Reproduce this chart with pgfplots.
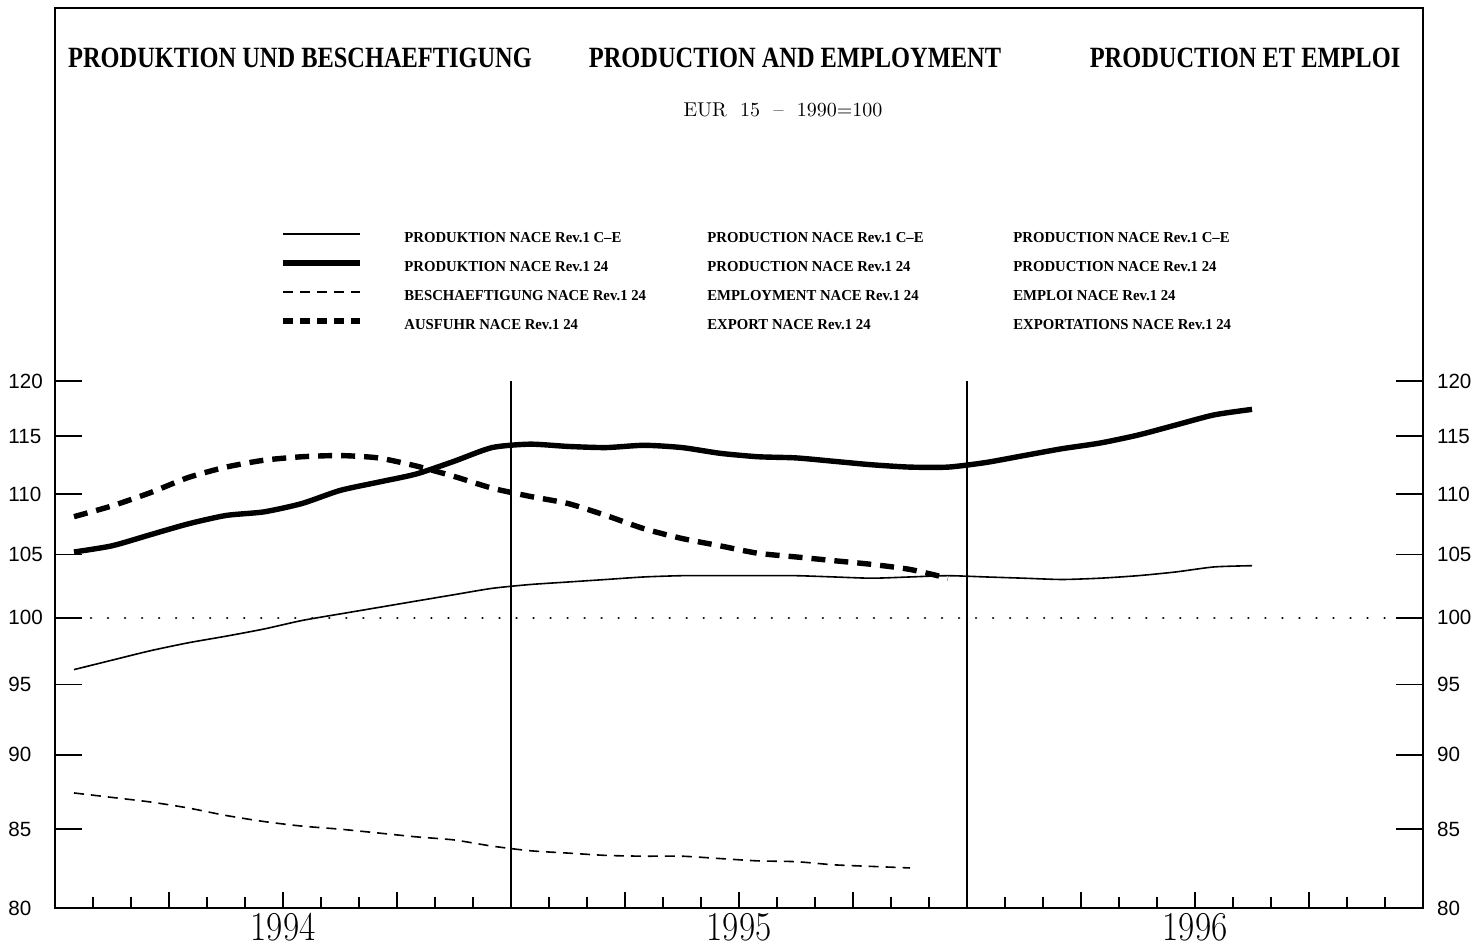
\documentclass[border=0pt]{standalone}
\usepackage{fontspec}
\usepackage{pgfplots}
\pgfplotsset{compat=1.18}
\newfontfamily\hdfont{Liberation Serif}
\newfontfamily\numfont{Liberation Sans}

\newcommand{\ttl}[1]{{\hdfont\bfseries\fontsize{14.7}{16}\selectfont\scalebox{0.83}[1]{#1}}}
\newcommand{\lgd}[1]{{\hdfont\bfseries\fontsize{7.6}{9}\selectfont\scalebox{0.97}[1]{#1}}}
\newcommand{\yr}[1]{\scalebox{0.86}[1]{#1}}

\pgfplotsset{
  chartbox/.style={
    scale only axis, width=684pt, height=263.5pt,
    xmin=0, xmax=36, ymin=80, ymax=120,
    axis line style={draw=none}, yminorticks=false,
    tick style={line width=0.8pt, black}, tick align=inside,
    clip=false
  },
  ylabs/.style={
    ytick={80,85,90,95,100,105,110,115,120},
    yticklabels={80,85,90,95,100,105,110,115,120},
    yticklabel style={font=\numfont\fontsize{10.3}{10}\selectfont, anchor=west}
  }
}

\begin{document}
\begin{tikzpicture}
\useasboundingbox (-27.5pt,-19.5pt) rectangle (711pt,454pt);

% y ticks on both sides, labels left
\begin{axis}[ymode=log, chartbox, ylabs, xtick=\empty,
  ytick pos=both, yticklabel pos=left, major tick length=13.5pt,
  yticklabel style={xshift=-26.8pt}]
\end{axis}

% labels right
\begin{axis}[ymode=log, chartbox, ylabs, xtick=\empty,
  ytick pos=right, yticklabel pos=right, major tick length=0pt,
  yticklabel style={xshift=3.5pt}]
\end{axis}

% data, month ticks
\begin{axis}[ymode=log, chartbox, ytick=\empty,
  xtick={6,18,30}, xticklabels={\yr{1994},\yr{1995},\yr{1996}},
  xticklabel style={font=\fontsize{20.5}{20}\selectfont, inner sep=0pt, anchor=north, yshift=-2.5pt},
  minor xtick={1,2,4,5,7,8,10,11,13,14,16,17,19,20,22,23,25,26,28,29,31,32,34,35},
  extra x ticks={3,9,15,21,27,33}, extra x tick labels={},
  xtick pos=bottom, major tick length=8pt, minor tick length=5.5pt]

  % reference line 100
  \addplot[black, line width=1.3pt, line cap=round, dash pattern=on 0.01pt off 8.5pt]
    coordinates {(0.5,100) (36,100)};
  % year separators
  \addplot[black, line width=0.8pt] coordinates {(12,80) (12,120)};
  \addplot[black, line width=0.8pt] coordinates {(24,80) (24,120)};

  % Produktion C-E
  \addplot[black, line width=0.8pt, smooth, tension=0.4] coordinates {
    (0.5,96.1) (1.5,96.8) (2.5,97.5) (3.5,98.1) (4.5,98.6) (5.5,99.15)
    (6.5,99.8) (7.5,100.3) (8.5,100.8) (9.5,101.3) (10.5,101.8) (11.5,102.3)
    (12.5,102.6) (13.5,102.8) (14.5,103.0) (15.5,103.2) (16.5,103.3) (17.5,103.3)
    (18.5,103.3) (19.5,103.3) (20.5,103.2) (21.5,103.1) (22.5,103.2) (23.5,103.3)
    (24.5,103.2) (25.5,103.1) (26.5,103.0) (27.5,103.1) (28.5,103.3) (29.5,103.6)
    (30.5,104.0) (31.5,104.1)
  };

  % Produktion 24
  \addplot[black, line width=2.7pt, line join=round, smooth, tension=0.4] coordinates {
    (0.5,105.2) (1.5,105.7) (2.5,106.6) (3.5,107.5) (4.5,108.2) (5.5,108.5)
    (6.5,109.2) (7.5,110.3) (8.5,111.0) (9.5,111.7) (10.5,112.8) (11.5,114.0)
    (12.5,114.3) (13.5,114.1) (14.5,114.0) (15.5,114.2) (16.5,114.0) (17.5,113.5)
    (18.5,113.2) (19.5,113.1) (20.5,112.8) (21.5,112.5) (22.5,112.3) (23.5,112.3)
    (24.5,112.7) (25.5,113.3) (26.5,113.9) (27.5,114.4) (28.5,115.1) (29.5,116.0)
    (30.5,116.9) (31.5,117.4)
  };

  % Beschaeftigung 24
  \addplot[black, line width=0.8pt, dash pattern=on 5pt off 3.5pt, smooth, tension=0.4] coordinates {
    (0.5,87.4) (1.5,87.1) (2.5,86.8) (3.5,86.4) (4.5,85.9) (5.5,85.5)
    (6.5,85.2) (7.5,85.0) (8.5,84.75) (9.5,84.5) (10.5,84.3) (11.5,83.9)
    (12.5,83.6) (13.5,83.45) (14.5,83.3) (15.5,83.25) (16.5,83.25) (17.5,83.1)
    (18.5,82.95) (19.5,82.9) (20.5,82.7) (21.5,82.6) (22.5,82.5)
  };

  % Ausfuhr 24
  \addplot[black, line width=2.7pt, dash pattern=on 7pt off 4.5pt, smooth, tension=0.4] coordinates {
    (0.5,108.1) (1.5,109.0) (2.5,110.1) (3.5,111.4) (4.5,112.3) (5.5,112.9)
    (6.5,113.2) (7.5,113.3) (8.5,113.1) (9.5,112.4) (10.5,111.5) (11.5,110.5)
    (12.5,109.8) (13.5,109.2) (14.5,108.2) (15.5,107.1) (16.5,106.3) (17.5,105.7)
    (18.5,105.1) (19.5,104.8) (20.5,104.5) (21.5,104.2) (22.5,103.8) (23.5,103.1)
  };
\end{axis}

% outer frame
\draw[line width=0.9pt] (0,0) rectangle (684pt,450pt);

% titles
\node[anchor=base] at (122.5pt,420pt) {\ttl{PRODUKTION UND BESCHAEFTIGUNG}};
\node[anchor=base] at (370pt,420pt) {\ttl{PRODUCTION AND EMPLOYMENT}};
\node[anchor=base] at (595pt,420pt) {\ttl{PRODUCTION ET EMPLOI}};
\node[anchor=base, font=\fontsize{10}{11}\selectfont] at (364pt,395.5pt) {EUR\ \ 15\ \ --\ \ 1990=100};

% legend
\draw[line width=0.8pt] (114pt,337pt) -- (152.5pt,337pt);
\draw[line width=2.7pt] (114pt,322.5pt) -- (152.5pt,322.5pt);
\draw[line width=0.8pt, dash pattern=on 5pt off 3.5pt] (114pt,308pt) -- (152.5pt,308pt);
\draw[line width=2.7pt, dash pattern=on 5pt off 3.5pt] (114pt,293.5pt) -- (152.5pt,293.5pt);

\foreach \yy/\a/\b/\c in {
  332.5/{PRODUKTION NACE Rev.1 C\textendash E}/{PRODUCTION NACE Rev.1 C\textendash E}/{PRODUCTION NACE Rev.1 C\textendash E},
  318/{PRODUKTION NACE Rev.1 24}/{PRODUCTION NACE Rev.1 24}/{PRODUCTION NACE Rev.1 24},
  303.5/{BESCHAEFTIGUNG NACE Rev.1 24}/{EMPLOYMENT NACE Rev.1 24}/{EMPLOI NACE Rev.1 24},
  289/{AUSFUHR NACE Rev.1 24}/{EXPORT NACE Rev.1 24}/{EXPORTATIONS NACE Rev.1 24}} {
  \node[anchor=base west, inner sep=0pt] at (174.5pt,\yy pt) {\lgd{\a}};
  \node[anchor=base west, inner sep=0pt] at (326pt,\yy pt) {\lgd{\b}};
  \node[anchor=base west, inner sep=0pt] at (479pt,\yy pt) {\lgd{\c}};
}
\end{tikzpicture}
\end{document}
